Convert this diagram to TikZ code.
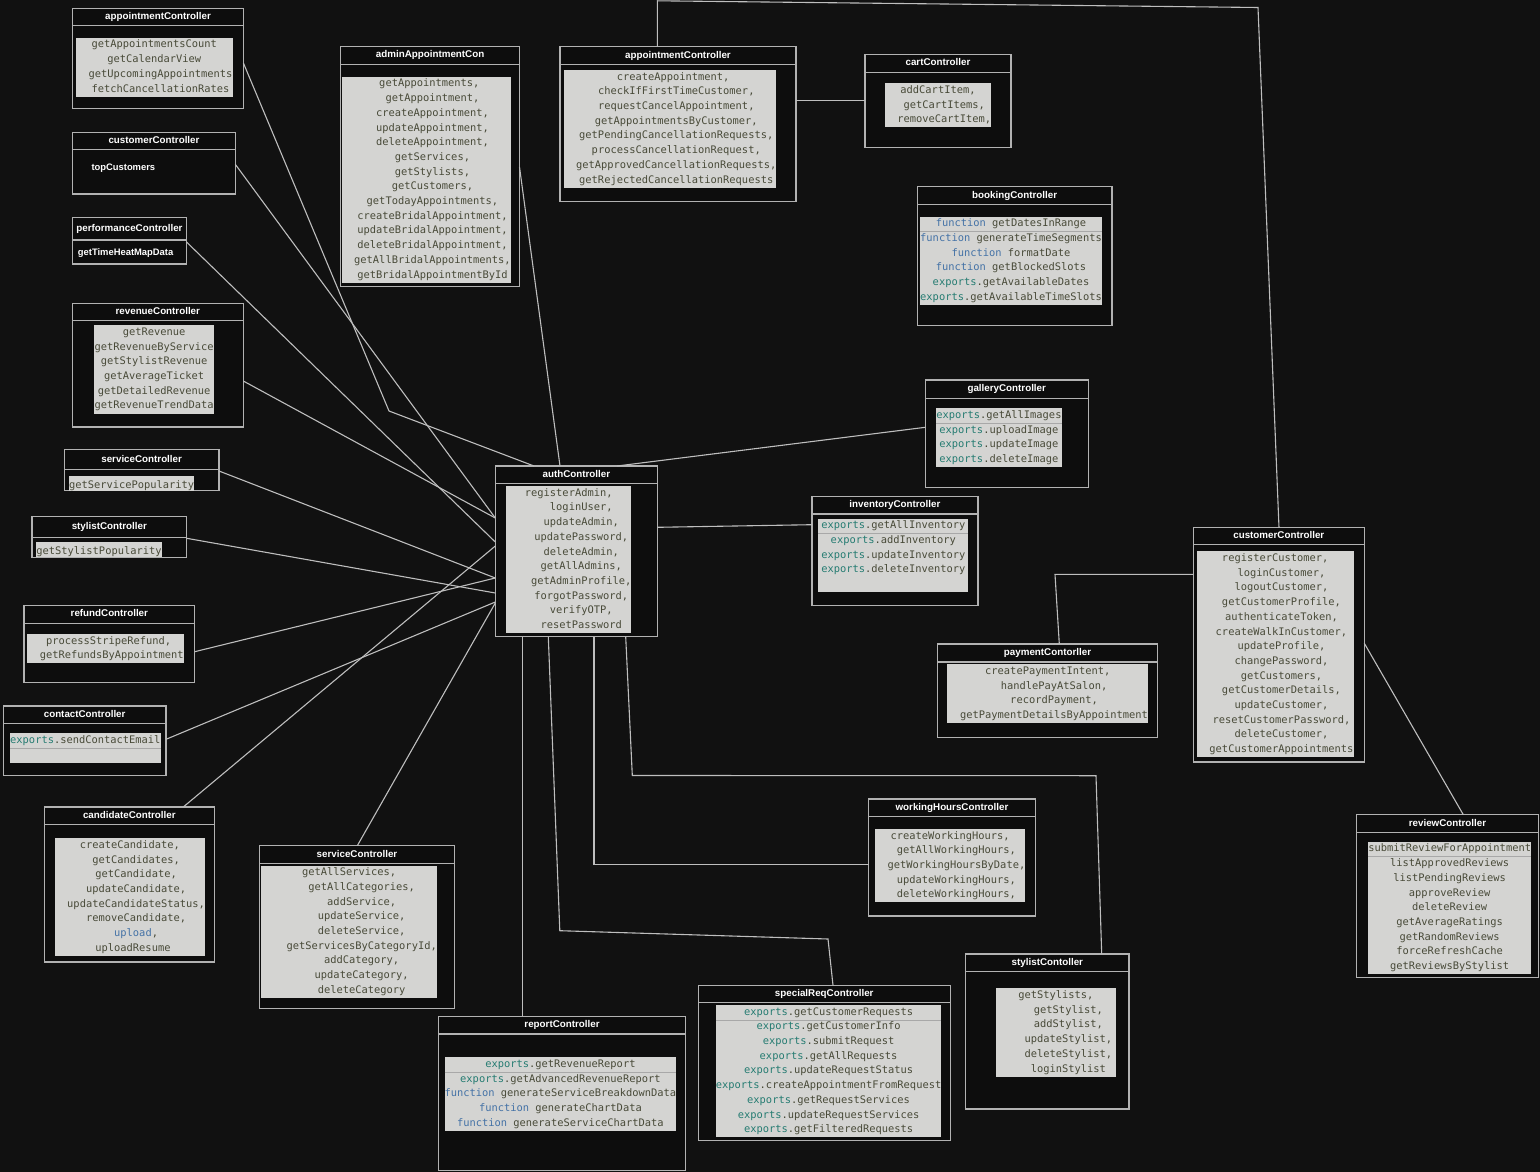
\documentclass[tikz,border=0pt]{standalone}
\usepackage{fontspec}
\usetikzlibrary{fit,calc}
\newfontfamily\monof{DejaVu Sans Mono}
\newfontfamily\sansf{Liberation Sans}

\definecolor{bg}{RGB}{17,17,17}
\definecolor{boxfill}{RGB}{13,13,13}
\definecolor{boxc}{RGB}{178,178,178}
\definecolor{connc}{RGB}{190,190,190}
\definecolor{methfill}{RGB}{212,212,210}
\definecolor{methtext}{RGB}{72,74,56}
\definecolor{rowc}{RGB}{168,168,168}
\definecolor{exc}{RGB}{38,124,114}
\definecolor{fnc}{RGB}{68,114,166}

% keyword colouring inside the method lists
\newcommand\kwex{{\color{exc}exports}}
\newcommand\kwfn{{\color{fnc}function}}
\newcommand\lead[1]{\phantom{#1}}
% one row of a method list is 14.7pt tall, baseline 12.3pt below its top
\newcommand\mstrut{\rule[-2.4pt]{0pt}{14.7pt}}

\tikzset{
  box/.style={draw=boxc, line width=1.2pt, fill=boxfill, inner sep=0pt, outer sep=0pt},
  barline/.style={draw=boxc, line width=1.2pt},
  ttl/.style={text=white, font=\sansf\bfseries\fontsize{9.8}{11}\selectfont,
              inner sep=0pt, text height=7pt, text depth=2pt},
  plain/.style={text=white, font=\sansf\bfseries\fontsize{9.4}{11}\selectfont,
              inner sep=0pt, anchor=west, text height=7pt, text depth=2pt},
  meth/.style={fill=methfill, text=methtext, inner sep=0pt, outer sep=0pt, align=center,
              font=\monof\fontsize{10.4}{14.7}\selectfont,
              execute at begin node=\mstrut, execute at end node=\mstrut},
  conn/.style={draw=connc, line width=1.1pt, line join=miter},
  rowsep/.style={draw=rowc, line width=0.6pt}
}

% controller frame: name, x1, y1, x2, y2, title bar height, title
\newcommand\ctrl[7]{%
  \node[box, fit={(#2,#3) (#4,#5)}] (#1) {};
  \draw[barline] ([yshift=-#6pt]#1.north west) -- ([yshift=-#6pt]#1.north east);
  \node[ttl] at ([yshift=-#6pt/2]#1.north) {#7};
}
% method list: name, centre x, centre y, width, height, lines
\newcommand\meth[6]{%
  \node[meth, minimum width=#4pt, minimum height=#5pt] (#1) at (#2,#3) {#6};
}
\newcommand\firstrow[1]{%
  \draw[rowsep] ([yshift=-14.7pt]#1.north west) -- ([yshift=-14.7pt]#1.north east);
}

\begin{document}
\begin{tikzpicture}[x=1pt, y=-1pt]
\path[use as bounding box, fill=bg] (0,0) rectangle (1540,1172);

% ---------- frames ----------
\ctrl{aptL}{72.7}{8.3}{243.4}{108.7}{17}{appointmentController}
\ctrl{custL}{72.7}{132.3}{235.3}{194}{17.4}{customerController}
\ctrl{perf}{72.7}{217.7}{186.2}{264}{22.3}{performanceController}
\ctrl{admin}{340.7}{46.7}{519.5}{286.7}{17.6}{adminAppointmentCon}
\ctrl{aptC}{559.9}{46.7}{796}{201.7}{18}{appointmentController}
\ctrl{cart}{864.9}{54.3}{1011}{147.7}{18}{cartController}
\ctrl{booking}{917.3}{186.7}{1112}{325.7}{17.6}{bookingController}
\ctrl{revenue}{72.3}{303.3}{243.3}{427}{17.4}{revenueController}
\ctrl{serviceL}{64.3}{449.7}{219}{490.3}{20}{serviceController}
\ctrl{stylistL}{32}{516.7}{186.7}{557.3}{20.6}{stylistController}
\ctrl{refund}{24}{605.3}{194.7}{682.7}{18}{refundController}
\ctrl{auth}{495.3}{466}{657.4}{636.7}{17.3}{authController}
\ctrl{gallery}{925.3}{380}{1088.2}{487.3}{18.3}{galleryController}
\ctrl{inventory}{812}{496.7}{977.9}{605.3}{17.3}{inventoryController}
\ctrl{custR}{1193.3}{527.7}{1364.3}{762}{17}{customerController}
\ctrl{payment}{937.3}{644}{1157.7}{737.3}{18}{paymentContorller}
\ctrl{review}{1356.7}{814.7}{1538.3}{977.3}{18}{reviewController}
\ctrl{contact}{3.3}{706}{166}{775.7}{17.7}{contactController}
\ctrl{candidate}{44.3}{807}{214.3}{962}{17.7}{candidateController}
\ctrl{serviceB}{259.7}{845.7}{454.3}{1008.7}{17.6}{serviceController}
\ctrl{working}{868.6}{799}{1035.3}{916}{17.7}{workingHoursController}
\ctrl{report}{438.3}{1016.3}{685.8}{1170.5}{17.7}{reportController}
\ctrl{special}{698.2}{985.3}{950.3}{1140.7}{17.4}{specialReqController}
\ctrl{stylistC}{965.7}{954}{1129}{1109}{17.7}{stylistContoller}

% ---------- plain entries ----------
\node[plain] (custLt) at (91.3,167.5) {topCustomers};
\node[plain] (perft) at (77.7,253) {getTimeHeatMapData};

% ---------- method lists ----------
\meth{aptLm}{154.25}{67.2}{156.5}{58.8}{getAppointmentsCount\\getCalendarView\\\lead{00}getUpcomingAppointments\\\lead{00}fetchCancellationRates}
\meth{adminm}{426.2}{179.7}{168.4}{205.8}{\lead{0}getAppointments,\\\lead{00}getAppointment,\\\lead{00}createAppointment,\\\lead{00}updateAppointment,\\\lead{00}deleteAppointment,\\\lead{00}getServices,\\\lead{00}getStylists,\\\lead{00}getCustomers,\\\lead{00}getTodayAppointments,\\\lead{00}createBridalAppointment,\\\lead{00}updateBridalAppointment,\\\lead{00}deleteBridalAppointment,\\\lead{00}getAllBridalAppointments,\\\lead{00}getBridalAppointmentById}
\meth{aptCm}{670}{128.85}{212}{117.6}{\lead{0}createAppointment,\\\lead{00}checkIfFirstTimeCustomer,\\\lead{00}requestCancelAppointment,\\\lead{00}getAppointmentsByCustomer,\\\lead{00}getPendingCancellationRequests,\\\lead{00}processCancellationRequest,\\\lead{00}getApprovedCancellationRequests,\\\lead{00}getRejectedCancellationRequests}
\meth{cartm}{938}{105.3}{106}{44.1}{addCartItem,\\\lead{00}getCartItems,\\\lead{00}removeCartItem,}
\meth{bookingm}{1011}{260.85}{181.3}{88.2}{\kwfn{} getDatesInRange\\\kwfn{} generateTimeSegments\\\kwfn{} formatDate\\\kwfn{} getBlockedSlots\\\kwex.getAvailableDates\\\kwex.getAvailableTimeSlots}
\meth{revenuem}{154.15}{369.5}{119.7}{88.2}{getRevenue\\getRevenueByService\\getStylistRevenue\\getAverageTicket\\getDetailedRevenue\\getRevenueTrendData}
\meth{serviceLm}{131.65}{483.15}{125.3}{14.3}{getServicePopularity}
\meth{stylistLm}{99}{549.8}{126}{15}{getStylistPopularity}
\meth{refundm}{105.5}{648.65}{156.4}{29.4}{\lead{0}processStripeRefund,\\\lead{00}getRefundsByAppointment}
\meth{authm}{568.75}{559.65}{123.5}{147}{registerAdmin,\\\lead{0000}loginUser,\\\lead{0000}updateAdmin,\\\lead{0000}updatePassword,\\\lead{0000}deleteAdmin,\\\lead{0000}getAllAdmins,\\\lead{0000}getAdminProfile,\\\lead{0000}forgotPassword,\\\lead{0000}verifyOTP,\\\lead{0000}resetPassword}
\meth{gallerym}{998.9}{437.8}{124.8}{58.8}{\kwex.getAllImages\\\kwex.uploadImage\\\kwex.updateImage\\\kwex.deleteImage}
\meth{inventorym}{893.35}{555.5}{150.1}{73.5}{\kwex.getAllInventory\\\kwex.addInventory\\\kwex.updateInventory\\\kwex.deleteInventory\\{}}
\meth{custRm}{1275.2}{654.35}{157}{205.8}{registerCustomer,\\\lead{00}loginCustomer,\\\lead{00}logoutCustomer,\\\lead{00}getCustomerProfile,\\\lead{00}authenticateToken,\\\lead{00}createWalkInCustomer,\\\lead{00}updateProfile,\\\lead{00}changePassword,\\\lead{00}getCustomers,\\\lead{00}getCustomerDetails,\\\lead{00}updateCustomer,\\\lead{00}resetCustomerPassword,\\\lead{00}deleteCustomer,\\\lead{00}getCustomerAppointments}
\meth{paymentm}{1047.8}{693.8}{201}{58.8}{createPaymentIntent,\\\lead{00}handlePayAtSalon,\\\lead{00}recordPayment,\\\lead{00}getPaymentDetailsByAppointment}
\meth{reviewm}{1449.65}{908}{162.7}{132.3}{submitReviewForAppointment\\listApprovedReviews\\listPendingReviews\\approveReview\\deleteReview\\getAverageRatings\\getRandomReviews\\forceRefreshCache\\getReviewsByStylist}
\meth{contactm}{85.35}{748}{150.7}{29.4}{\kwex.sendContactEmail\\{}}
\meth{candidatem}{129.85}{897.15}{150.3}{117.6}{createCandidate,\\\lead{00}getCandidates,\\\lead{00}getCandidate,\\\lead{00}updateCandidate,\\\lead{00}updateCandidateStatus,\\\lead{00}removeCandidate,\\\lead{00}{\color{fnc}upload},\\\lead{0}uploadResume}
\meth{serviceBm}{349.15}{931.7}{174.3}{132.3}{getAllServices,\\\lead{0000}getAllCategories,\\\lead{0000}addService,\\\lead{0000}updateService,\\\lead{0000}deleteService,\\\lead{0000}getServicesByCategoryId,\\\lead{0000}addCategory,\\\lead{0000}updateCategory,\\\lead{0000}deleteCategory}
\meth{workingm}{950.15}{865.65}{150.5}{73.5}{createWorkingHours,\\\lead{00}getAllWorkingHours,\\\lead{00}getWorkingHoursByDate,\\\lead{00}updateWorkingHours,\\\lead{00}deleteWorkingHours,}
\meth{reportm}{560.4}{1094.15}{231}{73.5}{\kwex.getRevenueReport\\\kwex.getAdvancedRevenueReport\\\kwfn{} generateServiceBreakdownData\\\kwfn{} generateChartData\\\kwfn{} generateServiceChartData}
\meth{specialm}{828.6}{1071.3}{225.2}{132.3}{\kwex.getCustomerRequests\\\kwex.getCustomerInfo\\\kwex.submitRequest\\\kwex.getAllRequests\\\kwex.updateRequestStatus\\\kwex.createAppointmentFromRequest\\\kwex.getRequestServices\\\kwex.updateRequestServices\\\kwex.getFilteredRequests}
\meth{stylistCm}{1055.85}{1032.5}{119.7}{88.2}{getStylists,\\\lead{0000}getStylist,\\\lead{0000}addStylist,\\\lead{0000}updateStylist,\\\lead{0000}deleteStylist,\\\lead{0000}loginStylist}

\firstrow{bookingm}
\firstrow{gallerym}
\firstrow{inventorym}
\firstrow{contactm}
\firstrow{reportm}
\firstrow{specialm}
\firstrow{reviewm}

% ---------- connectors ----------
\draw[conn] (aptL.east |- 0,63) -- (389,411) -- (auth.north -| 534,0);
\draw[conn] (admin.east |- 0,167) -- (auth.north -| 560,0);
\draw[conn] (custL.east |- 0,164.3) -- (auth.west |- 0,518);
\draw[conn] (perf.east |- 0,241.7) -- (auth.west |- 0,542);
\draw[conn] (revenue.east |- 0,381) -- (auth.west |- 0,518);
\draw[conn] (serviceL.east |- 0,471) -- (auth.west |- 0,578);
\draw[conn] (stylistL.east |- 0,538.3) -- (auth.west |- 0,593);
\draw[conn] (refund.east |- 0,651.7) -- (auth.west |- 0,578);
\draw[conn] (contact.east |- 0,739.3) -- (auth.west |- 0,602);
\draw[conn] (candidate.north -| 183.3,0) -- (auth.west |- 0,546);
\draw[conn] (serviceB.north -| 357.3,0) -- (auth.west |- 0,603);
\draw[conn] (auth.north -| 617,0) -- (gallery.west |- 0,427.3);
\draw[conn] (auth.east |- 0,527.3) -- (inventory.west |- 0,524.7);
\draw[conn] (auth.south -| 522.5,0) -- (report.north -| 522.5,0);
\draw[conn] (auth.south -| 548.3,0) -- (559.8,930.7) -- (828,939) -- (special.north -| 833,0);
\draw[conn] (auth.south -| 594,0) -- (594,864.5) -- (working.west |- 0,864.5);
\draw[conn] (auth.south -| 625.7,0) -- (632.3,775.5) -- (1096,775.7) -- (stylistC.north -| 1101.7,0);
\draw[conn] (aptC.north -| 657.4,0) -- (657.4,0.8) -- (1258,7.5) -- (custR.north -| 1279,0);
\draw[conn] (aptC.east |- 0,100.7) -- (cart.west |- 0,100.7);
\draw[conn] (custR.west |- 0,574.3) -- (1055,574.3) -- (payment.north -| 1059.3,0);
\draw[conn] (custR.east |- 0,643.3) -- (review.north -| 1463.3,0);
\end{tikzpicture}
\end{document}
